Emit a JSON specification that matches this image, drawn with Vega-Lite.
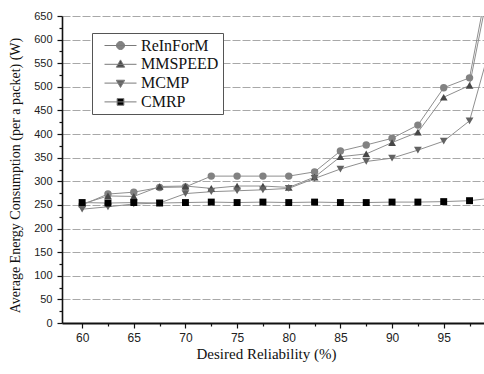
{
  "$schema": "https://vega.github.io/schema/vega-lite/v6.json",
  "width": 422,
  "height": 307,
  "autosize": {"type": "none"},
  "padding": {"left": 62, "top": 16, "right": 0, "bottom": 51},
  "background": "white",
  "config": {
    "view": {"stroke": null},
    "axis": {"labelFont": "Liberation Sans", "labelColor": "#222", "titleFont": "Liberation Serif", "titleFontWeight": "normal", "titleColor": "#111", "tickColor": "#111", "domainColor": "#111"}
  },
  "data": {
    "values": [
      {"x": 60, "series": "ReInForM", "y": 250}, {"x": 62.5, "series": "ReInForM", "y": 273}, {"x": 65, "series": "ReInForM", "y": 277}, {"x": 67.5, "series": "ReInForM", "y": 287}, {"x": 70, "series": "ReInForM", "y": 288}, {"x": 72.5, "series": "ReInForM", "y": 311}, {"x": 75, "series": "ReInForM", "y": 311}, {"x": 77.5, "series": "ReInForM", "y": 311}, {"x": 80, "series": "ReInForM", "y": 311}, {"x": 82.5, "series": "ReInForM", "y": 320}, {"x": 85, "series": "ReInForM", "y": 364}, {"x": 87.5, "series": "ReInForM", "y": 377}, {"x": 90, "series": "ReInForM", "y": 391}, {"x": 92.5, "series": "ReInForM", "y": 419}, {"x": 95, "series": "ReInForM", "y": 498}, {"x": 97.5, "series": "ReInForM", "y": 519}, {"x": 100, "series": "ReInForM", "y": 805},
      {"x": 60, "series": "MMSPEED", "y": 252}, {"x": 62.5, "series": "MMSPEED", "y": 269}, {"x": 65, "series": "MMSPEED", "y": 268}, {"x": 67.5, "series": "MMSPEED", "y": 289}, {"x": 70, "series": "MMSPEED", "y": 290}, {"x": 72.5, "series": "MMSPEED", "y": 285}, {"x": 75, "series": "MMSPEED", "y": 290}, {"x": 77.5, "series": "MMSPEED", "y": 290}, {"x": 80, "series": "MMSPEED", "y": 287}, {"x": 82.5, "series": "MMSPEED", "y": 309}, {"x": 85, "series": "MMSPEED", "y": 352}, {"x": 87.5, "series": "MMSPEED", "y": 358}, {"x": 90, "series": "MMSPEED", "y": 382}, {"x": 92.5, "series": "MMSPEED", "y": 404}, {"x": 95, "series": "MMSPEED", "y": 478}, {"x": 97.5, "series": "MMSPEED", "y": 503}, {"x": 100, "series": "MMSPEED", "y": 780},
      {"x": 60, "series": "MCMP", "y": 241}, {"x": 62.5, "series": "MCMP", "y": 246}, {"x": 65, "series": "MCMP", "y": 252}, {"x": 67.5, "series": "MCMP", "y": 254}, {"x": 70, "series": "MCMP", "y": 274}, {"x": 72.5, "series": "MCMP", "y": 278}, {"x": 75, "series": "MCMP", "y": 280}, {"x": 77.5, "series": "MCMP", "y": 282}, {"x": 80, "series": "MCMP", "y": 285}, {"x": 82.5, "series": "MCMP", "y": 306}, {"x": 85, "series": "MCMP", "y": 326}, {"x": 87.5, "series": "MCMP", "y": 342}, {"x": 90, "series": "MCMP", "y": 349}, {"x": 92.5, "series": "MCMP", "y": 366}, {"x": 95, "series": "MCMP", "y": 385}, {"x": 97.5, "series": "MCMP", "y": 428}, {"x": 100, "series": "MCMP", "y": 625},
      {"x": 60, "series": "CMRP", "y": 255}, {"x": 62.5, "series": "CMRP", "y": 254}, {"x": 65, "series": "CMRP", "y": 255}, {"x": 67.5, "series": "CMRP", "y": 254}, {"x": 70, "series": "CMRP", "y": 255}, {"x": 72.5, "series": "CMRP", "y": 256}, {"x": 75, "series": "CMRP", "y": 255}, {"x": 77.5, "series": "CMRP", "y": 256}, {"x": 80, "series": "CMRP", "y": 255}, {"x": 82.5, "series": "CMRP", "y": 256}, {"x": 85, "series": "CMRP", "y": 255}, {"x": 87.5, "series": "CMRP", "y": 255}, {"x": 90, "series": "CMRP", "y": 256}, {"x": 92.5, "series": "CMRP", "y": 256}, {"x": 95, "series": "CMRP", "y": 257}, {"x": 97.5, "series": "CMRP", "y": 259}, {"x": 100, "series": "CMRP", "y": 265}
    ]
  },
  "resolve": {"axis": {"x": "independent", "y": "independent"}},
  "layer": [
    {
      "mark": {"type": "line", "clip": true, "strokeWidth": 1, "stroke": "#8f8f8f"},
      "encoding": {
        "x": {"field": "x", "type": "quantitative", "scale": {"domain": [58.05, 98.9], "nice": false, "zero": false},
          "axis": {"orient": "bottom", "values": [60, 65, 70, 75, 80, 85, 90, 95], "grid": false, "tickSize": 5, "tickWidth": 1.2, "domainWidth": 2, "labelFontSize": 12, "labelPadding": 4, "title": "Desired Reliability (%)", "titleFontSize": 15, "titleX": 204, "titleY": 30, "titleBaseline": "middle"}},
        "y": {"field": "y", "type": "quantitative", "scale": {"domain": [0, 650], "nice": false},
          "axis": {"orient": "left", "values": [0, 50, 100, 150, 200, 250, 300, 350, 400, 450, 500, 550, 600, 650], "grid": true, "gridColor": "#a8a8a8", "gridDash": [8, 2], "gridWidth": 1, "tickSize": 5, "tickWidth": 1.2, "domainWidth": 1.6, "labelFontSize": 11, "labelPadding": 5, "title": "Average Energy Consumption (per a packet) (W)", "titleFontSize": 14, "titleAngle": -90, "titleX": -47, "titleY": 159, "titleBaseline": "middle"}},
        "detail": {"field": "series", "type": "nominal"}
      }
    },
    {
      "transform": [{"filter": "datum.series === 'ReInForM'"}],
      "mark": {"type": "point", "shape": "circle", "filled": true, "clip": true, "size": 55, "opacity": 1, "color": "#828282"},
      "encoding": {
        "x": {"field": "x", "type": "quantitative",
          "axis": {"orient": "bottom", "values": [62.5, 67.5, 72.5, 77.5, 82.5, 87.5, 92.5, 97.5], "grid": false, "labels": false, "domain": false, "tickSize": 3, "tickWidth": 1.2, "title": null}},
        "y": {"field": "y", "type": "quantitative",
          "axis": {"orient": "left", "values": [25, 75, 125, 175, 225, 275, 325, 375, 425, 475, 525, 575, 625], "grid": false, "labels": false, "domain": false, "tickSize": 3, "tickWidth": 1.2, "title": null}}
      }
    },
    {
      "transform": [{"filter": "datum.series === 'MMSPEED'"}],
      "mark": {"type": "point", "shape": "triangle-up", "filled": true, "clip": true, "size": 60, "opacity": 1, "color": "#474747"},
      "encoding": {
        "x": {"field": "x", "type": "quantitative", "axis": null},
        "y": {"field": "y", "type": "quantitative", "axis": null}
      }
    },
    {
      "transform": [{"filter": "datum.series === 'MCMP'"}],
      "mark": {"type": "point", "shape": "triangle-down", "filled": true, "clip": true, "size": 60, "opacity": 1, "color": "#626262"},
      "encoding": {
        "x": {"field": "x", "type": "quantitative", "axis": null},
        "y": {"field": "y", "type": "quantitative", "axis": null}
      }
    },
    {
      "transform": [{"filter": "datum.series === 'CMRP'"}],
      "mark": {"type": "point", "shape": "square", "filled": true, "clip": true, "size": 48, "opacity": 1, "color": "#000000"},
      "encoding": {
        "x": {"field": "x", "type": "quantitative", "axis": null},
        "y": {"field": "y", "type": "quantitative", "axis": null}
      }
    },
    {
      "transform": [{"filter": "datum.x === 100"}],
      "mark": {"type": "point", "filled": true, "clip": true, "size": 55, "opacity": 1, "stroke": "#7a7a7a", "strokeWidth": 1},
      "encoding": {
        "x": {"field": "x", "type": "quantitative", "axis": null},
        "y": {"field": "y", "type": "quantitative", "axis": null},
        "color": {"field": "series", "type": "nominal",
          "scale": {"domain": ["ReInForM", "MMSPEED", "MCMP", "CMRP"], "range": ["#828282", "#474747", "#626262", "#000000"]},
          "legend": {"title": null, "orient": "none", "legendX": 30, "legendY": 17, "direction": "vertical", "fillColor": "white", "strokeColor": "#555", "padding": 4, "rowPadding": 1.8, "labelFont": "Liberation Serif", "labelFontSize": 16, "labelColor": "#111", "symbolSize": 256, "symbolOffset": 16, "labelOffset": 12, "symbolStrokeColor": "#7a7a7a", "symbolStrokeWidth": 1, "symbolOpacity": 1}},
        "shape": {"field": "series", "type": "nominal",
          "scale": {"domain": ["ReInForM", "MMSPEED", "MCMP", "CMRP"], "range": ["M-2,0H2M0.5,0A0.5,0.5,0,1,1,-0.5,0A0.5,0.5,0,1,1,0.5,0Z", "M-2,0H2M0,-0.55L0.52,0.36L-0.52,0.36Z", "M-2,0H2M0,0.55L0.52,-0.36L-0.52,-0.36Z", "M-2,0H2M-0.42,-0.42H0.42V0.42H-0.42Z"]}}
      }
    }
  ]
}
